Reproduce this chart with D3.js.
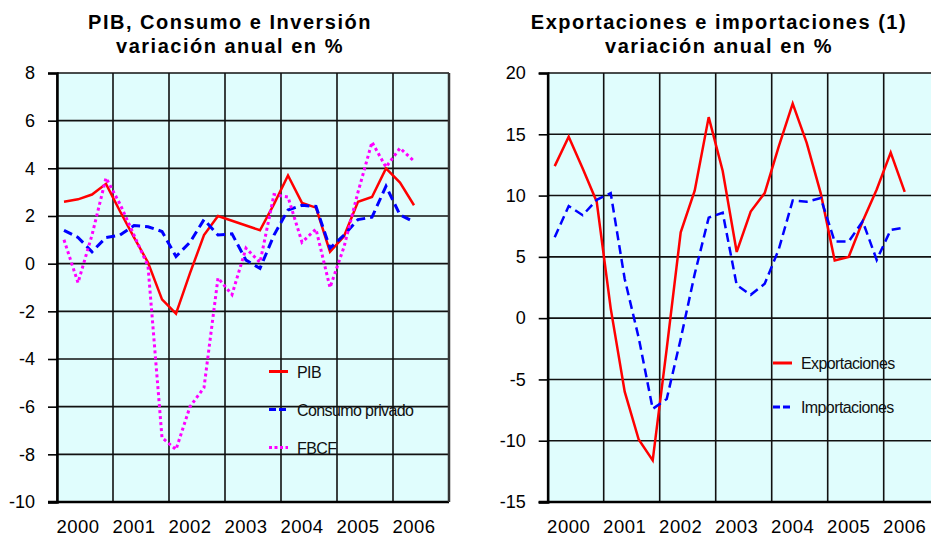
<!DOCTYPE html>
<html><head><meta charset="utf-8">
<script src="https://cdn.jsdelivr.net/npm/d3@7"></script>
<style>
body{margin:0;background:#fff;}
svg{display:block;font-family:Arial,"Liberation Sans",sans-serif;}
</style></head>
<body>
<svg id="c" width="931" height="535"></svg>
<script>
// ---------- data ----------
const years = ["2000","2001","2002","2003","2004","2005","2006"];
const pib = [2.6,2.7,2.9,3.35, 2.2,1.1,0.05,-1.5, -2.1,-0.4,1.2,2.0, 1.8,1.6,1.4,2.5, 3.7,2.55,2.35,0.5, 1.15,2.6,2.8,4.0, 3.4,2.45];
const consumo = [1.4,1.1,0.5,1.1, 1.2,1.6,1.55,1.35, 0.3,0.9,1.85,1.2, 1.25,0.15,-0.2,1.2, 2.25,2.45,2.4,0.65, 1.2,1.85,1.95,3.25, 2.05,1.75];
const fbcf = [1.0,-0.8,1.2,3.6, 2.5,1.2,-0.1,-7.3, -7.8,-6.0,-5.2,-0.6, -1.3,0.65,0.05,2.9, 2.8,0.9,1.45,-1.0, 0.7,3.0,5.1,4.05, 4.85,4.3];
const exportaciones = [12.4,14.8,12.2,9.5, 0.8,-6.0,-9.9,-11.6, -2.5,7.0,10.4,16.4, 12.0,5.4,8.7,10.2, 14.0,17.5,14.3,10.2, 4.7,5.0,7.9,10.5, 13.5,10.3];
const importaciones = [6.6,9.15,8.4,9.65, 10.2,3.2,-1.6,-7.4, -6.6,-1.7,3.6,8.2, 8.6,2.7,1.9,2.8, 5.6,9.6,9.5,9.8, 6.25,6.25,7.9,4.75, 7.2,7.4];
const leftTicks = [-10,-8,-6,-4,-2,0,2,4,6,8];
const rightTicks = [-15,-10,-5,0,5,10,15,20];
const leftTitle = ["PIB, Consumo e Inversión","variación anual en %"];
const rightTitle = ["Exportaciones e importaciones (1)","variación anual en %"];
const leftLegend = ["PIB","Consumo privado","FBCF"];
const rightLegend = ["Exportaciones","Importaciones"];

const svg = d3.select("#c");
const FONT = "Arial, 'Liberation Sans', sans-serif";

function panel(o){
  const g = svg.append("g");
  const n = years.length*4;
  const x = d3.scaleLinear().domain([0, n]).range([o.x0, o.x0 + 56*years.length]);
  const y = d3.scaleLinear().domain(o.domain).range([502, 73]);
  // background
  g.append("rect").attr("x", x(0)).attr("y", y(o.domain[1]))
    .attr("width", x(n)-x(0)).attr("height", y(o.domain[0])-y(o.domain[1]))
    .attr("fill", "#e0fdfd");
  // horizontal grid
  g.selectAll(".hg").data(o.ticks).join("line")
    .attr("x1", x(0)).attr("x2", x(n))
    .attr("y1", d=>y(d)).attr("y2", d=>y(d))
    .attr("stroke", "#111").attr("stroke-width", 1.6);
  // vertical grid
  g.selectAll(".vg").data(d3.range(years.length+1)).join("line")
    .attr("x1", d=>x(d*4)).attr("x2", d=>x(d*4))
    .attr("y1", y(o.domain[1])).attr("y2", y(o.domain[0]))
    .attr("stroke", "#111").attr("stroke-width", 1.6);
  // y axis
  const ya = g.append("g").attr("transform", `translate(${x(0)},0)`)
    .call(d3.axisLeft(y).tickValues(o.ticks).tickFormat(d=>String(d)).tickSize(9).tickPadding(13));
  ya.select(".domain").attr("stroke", "#000").attr("stroke-width", 2.5);
  ya.selectAll(".tick line").attr("stroke", "#000").attr("stroke-width", 1.6);
  ya.selectAll("text").attr("font-size", 18).attr("fill", "#000").attr("font-family", FONT);
  // bottom border
  g.append("line").attr("x1", x(0)-9).attr("x2", x(n))
    .attr("y1", y(o.domain[0])).attr("y2", y(o.domain[0]))
    .attr("stroke", "#000").attr("stroke-width", 2.5);
  g.append("line").attr("x1", x(n)).attr("x2", x(n))
    .attr("y1", y(o.domain[1])).attr("y2", y(o.domain[0]))
    .attr("stroke", "#333").attr("stroke-width", 2.5);
  // x labels
  g.selectAll(".xl").data(years).join("text")
    .attr("x", (d,i)=>x(i*4+2)-7).attr("y", 532.5)
    .attr("text-anchor", "middle").attr("font-size", 18.5).attr("letter-spacing", 0.5)
    .attr("fill", "#000").text(d=>d);
  // series
  const line = d3.line().x((d,i)=>x(i+0.5)).y(d=>y(d));
  o.series.forEach(s=>{
    g.append("path").datum(s.values).attr("d", line)
      .attr("fill", "none").attr("stroke", s.color).attr("stroke-width", s.width)
      .attr("stroke-dasharray", s.dash || null).attr("stroke-linejoin", "miter");
  });
  // legend
  o.series.forEach((s,i)=>{
    const ly = o.legend.y[i];
    g.append("line").attr("x1", o.legend.x).attr("x2", o.legend.x+19)
      .attr("y1", ly).attr("y2", ly).attr("stroke", s.color).attr("stroke-width", 3)
      .attr("stroke-dasharray", s.ldash || null);
    g.append("text").attr("x", o.legend.x+28).attr("y", ly+6)
      .attr("font-size", 16).attr("fill", "#111").attr("letter-spacing", -0.6).text(s.name);
  });
  // title
  o.title.forEach((t,i)=>{
    g.append("text").attr("x", o.tx).attr("y", 29 + i*23.5).attr("text-anchor", "middle")
      .attr("font-size", 20).attr("font-weight", "bold").attr("letter-spacing", 1.5)
      .attr("fill", "#000").text(t);
  });
}

panel({
  x0: 57, domain: [-10, 8], ticks: leftTicks, tx: 230, title: leftTitle,
  series: [
    {name: leftLegend[0], values: pib, color: "#ff0000", width: 2.5},
    {name: leftLegend[1], values: consumo, color: "#0000ff", width: 3, dash: "9,5", ldash: "7,3"},
    {name: leftLegend[2], values: fbcf, color: "#ff00ff", width: 3, dash: "3,3", ldash: "3,2.5"}
  ],
  legend: {x: 269, y: [371.5, 409.5, 447.5]}
});
panel({
  x0: 547.7, domain: [-15, 20], ticks: rightTicks, tx: 719, title: rightTitle,
  series: [
    {name: rightLegend[0], values: exportaciones, color: "#ff0000", width: 2.5},
    {name: rightLegend[1], values: importaciones, color: "#0000ff", width: 2.5, dash: "9,5", ldash: "7,3"}
  ],
  legend: {x: 773, y: [363, 407]}
});
</script>
</body></html>
